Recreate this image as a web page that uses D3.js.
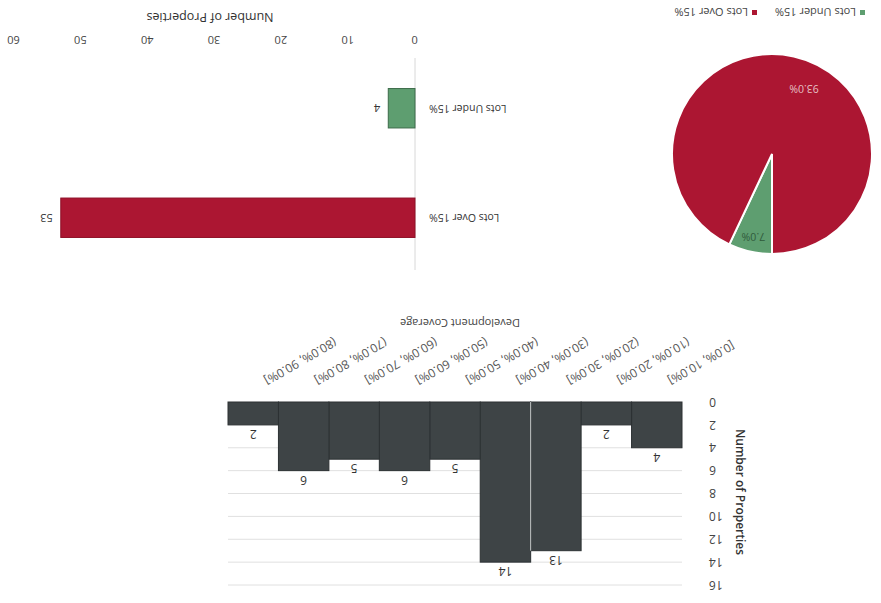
<!DOCTYPE html>
<html><head><meta charset="utf-8">
<script src="https://cdn.jsdelivr.net/npm/d3@7"></script>
<style>
html,body{margin:0;padding:0;background:#fff;}
svg{display:block;font-family:"Open Sans","Liberation Sans",sans-serif;}
</style></head>
<body>
<svg id="c" width="881" height="603"></svg>
<script>
// Histogram data
const binLabels = ["[0.0%, 10.0%]","(10.0%, 20.0%]","(20.0%, 30.0%]","(30.0%, 40.0%]","(40.0%, 50.0%]","(50.0%, 60.0%]","(60.0%, 70.0%]","(70.0%, 80.0%]","(80.0%, 90.0%]"];
const binCounts = [4, 2, 13, 14, 5, 6, 5, 6, 2];
const histTicks = [0, 2, 4, 6, 8, 10, 12, 14, 16];
// Lots bar / pie data
const lotCategories = ["Lots Over 15%", "Lots Under 15%"];
const lotCounts = [53, 4];
const barTicks = [0, 10, 20, 30, 40, 50, 60];
const pieOrder = ["Lots Under 15%", "Lots Over 15%"];
const pieValues = [4, 53];

const RED = "#ac1632", GREEN = "#5e9e70", GRAY = "#3e4446";
const svg = d3.select("#c");
// the scanned page is upside down
const g = svg.append("g").attr("transform", "rotate(180,440.5,301.5)");

// ---------- Histogram ----------
{
  const x = d3.scaleBand().domain(binLabels).range([199, 653]).padding(0);
  const y = d3.scaleLinear().domain([0, 16]).range([201, 18]);
  const h = g.append("g");
  h.selectAll("line.grid").data(histTicks.slice(1)).join("line")
    .attr("x1", 199).attr("x2", 653).attr("y1", d => y(d)).attr("y2", d => y(d))
    .attr("stroke", "#e0e0e0").attr("stroke-width", 1);
  h.selectAll("rect").data(binCounts).join("rect")
    .attr("x", (d, i) => x(binLabels[i])).attr("width", x.bandwidth())
    .attr("y", d => y(d)).attr("height", d => y(0) - y(d))
    .attr("fill", GRAY).attr("stroke", "#2c3133").attr("stroke-width", 1);
  h.append("line").attr("x1", x(binLabels[3])).attr("x2", x(binLabels[3]))
    .attr("y1", y(13)).attr("y2", y(0)).attr("stroke", "#c9cdcd").attr("stroke-width", 1);
  h.selectAll("text.v").data(binCounts).join("text").attr("class", "v")
    .attr("x", (d, i) => x(binLabels[i]) + x.bandwidth() / 2).attr("y", d => y(d) - 5)
    .attr("text-anchor", "middle").attr("font-size", 12).attr("fill", "#333").text(d => d);
  const ya = d3.axisLeft(y).tickValues(histTicks).tickSize(0).tickPadding(8);
  const yg = h.append("g").attr("transform", "translate(180,0)").attr("color", "#444").call(ya);
  yg.select(".domain").remove();
  yg.selectAll("text").attr("font-size", 12).attr("fill", "#444").attr("font-family", "Open Sans, sans-serif");
  h.selectAll("text.cat").data(binLabels).join("text").attr("class", "cat")
    .attr("transform", d => `translate(${x(d) + x.bandwidth() / 2 - 10},${y(0) + 24}) rotate(-30)`)
    .attr("text-anchor", "end").attr("font-size", 12).attr("fill", "#555").text(d => d);
  h.append("text").attr("x", 421).attr("y", 284).attr("text-anchor", "middle")
    .attr("font-size", 11).attr("fill", "#444").text("Development Coverage");
  h.append("text").attr("transform", "translate(145,111) rotate(-90)").attr("text-anchor", "middle")
    .attr("font-size", 12).attr("font-weight", 600).attr("fill", "#333").text("Number of Properties");
}

// ---------- Horizontal bar chart ----------
{
  const x = d3.scaleLinear().domain([0, 60]).range([466, 867]);
  const y = d3.scaleBand().domain(lotCategories).range([330.5, 549.5]).paddingInner(0.64).paddingOuter(0.32);
  const b = g.append("g");
  b.append("line").attr("x1", x(0)).attr("x2", x(0)).attr("y1", 333).attr("y2", 545)
    .attr("stroke", "#d8d8d8");
  b.selectAll("rect").data(lotCounts).join("rect")
    .attr("x", x(0)).attr("y", (d, i) => y(lotCategories[i]))
    .attr("width", d => x(d) - x(0)).attr("height", y.bandwidth())
    .attr("fill", (d, i) => i === 0 ? RED : GREEN)
    .attr("stroke", (d, i) => i === 0 ? "#8e1027" : "#3d6b4a").attr("stroke-width", 1);
  b.selectAll("text.v").data(lotCounts).join("text").attr("class", "v")
    .attr("x", d => x(d) + 8).attr("y", (d, i) => y(lotCategories[i]) + y.bandwidth() / 2)
    .attr("dy", "0.35em").attr("font-size", 11).attr("fill", "#333").text(d => d);
  b.selectAll("text.c").data(lotCategories).join("text").attr("class", "c")
    .attr("x", 452).attr("y", d => y(d) + y.bandwidth() / 2).attr("dy", "0.35em")
    .attr("text-anchor", "end").attr("font-size", 10.5).attr("fill", "#333").text(d => d);
  const xa = d3.axisBottom(x).tickValues(barTicks).tickSize(0).tickPadding(6);
  const xg = b.append("g").attr("transform", "translate(0,553)").attr("color", "#444").call(xa);
  xg.select(".domain").remove();
  xg.selectAll("text").attr("font-size", 11).attr("fill", "#444").attr("font-family", "Open Sans, sans-serif");
  b.append("text").attr("x", 671).attr("y", 590).attr("text-anchor", "middle")
    .attr("font-size", 12.5).attr("fill", "#333").text("Number of Properties");
}

// ---------- Pie ----------
{
  const cx = 109, cy = 449, r = 100;
  const pie = d3.pie().sort(null).value(d => d)(pieValues);
  const arc = d3.arc().innerRadius(0).outerRadius(r);
  const p = g.append("g").attr("transform", `translate(${cx},${cy})`);
  p.selectAll("path").data(pie).join("path").attr("d", arc)
    .attr("fill", (d, i) => i === 0 ? GREEN : RED)
    .attr("stroke", "#fff").attr("stroke-width", 2);
  const total = d3.sum(pieValues);
  const labArcs = [d3.arc().innerRadius(r * 0.85).outerRadius(r * 0.85), d3.arc().innerRadius(r * 0.73).outerRadius(r * 0.73)];
  p.selectAll("text").data(pie).join("text")
    .attr("transform", (d, i) => {
      let c;
      if (i === 0) c = labArcs[0].centroid(d);
      else {
        const a = d.startAngle + 0.54 * (d.endAngle - d.startAngle);
        c = labArcs[1].centroid({startAngle: a, endAngle: a});
      }
      return `translate(${c})`;
    })
    .attr("text-anchor", "middle").attr("dy", "0.35em").attr("font-size", 10.5)
    .attr("fill", (d, i) => i === 0 ? "#2f5a3b" : "#e6c2c6")
    .text(d => (d.data / total * 100).toFixed(1) + "%");
  const lg = g.append("g").attr("transform", "translate(0,591)");
  const lx = [16, 124];
  pieOrder.forEach((name, i) => {
    lg.append("rect").attr("x", lx[i]).attr("y", -3).attr("width", 5).attr("height", 5)
      .attr("fill", i === 0 ? GREEN : RED);
    lg.append("text").attr("x", lx[i] + 9).attr("y", 0).attr("dy", "0.35em")
      .attr("font-size", 11).attr("fill", "#444").text(name);
  });
}
</script>
</body></html>
